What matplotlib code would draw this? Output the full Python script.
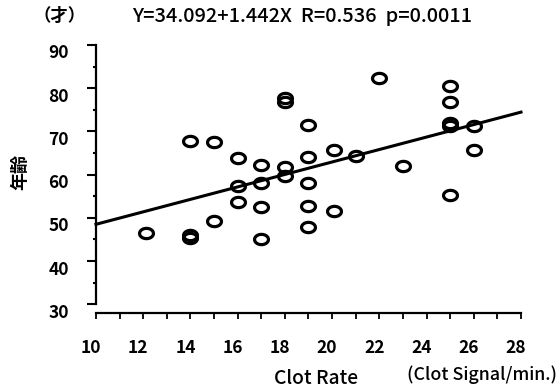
import matplotlib
matplotlib.use("Agg")
import matplotlib.pyplot as plt
import matplotlib.transforms as mtransforms
from matplotlib.path import Path
import numpy as np

plt.rcParams['font.family'] = ['Noto Sans CJK JP', 'DejaVu Sans']

# Data
clot_rate = [12.1, 14, 14, 14, 15, 15, 16, 16, 16, 17, 17, 17, 17,
             18, 18, 18, 18, 19, 19, 19, 19, 19, 20.1, 20.1, 21, 22, 23,
             25, 25, 25, 25, 25, 26, 26]
age = [46.5, 46.0, 45.3, 67.7, 67.5, 49.2, 63.8, 57.3, 53.7, 62.3, 58.1, 52.5, 45.2,
       77.7, 76.9, 61.8, 59.6, 71.5, 64.1, 58.1, 52.7, 47.8, 65.6, 51.7, 64.2, 82.3, 61.9,
       80.4, 76.8, 71.9, 71.2, 55.2, 71.3, 65.8]
intercept = 34.092
slope = 1.442
fit_x = [10, 28]
x_ticks = [10, 12, 14, 16, 18, 20, 22, 24, 26, 28]
y_ticks = [30, 40, 50, 60, 70, 80, 90]

W, H = 559, 390
fig = plt.figure(figsize=(W/100, H/100), dpi=100)
ax = fig.add_axes([96/W, 1 - 304.3/H, 425/W, (304.3 - 45)/H])

# elliptical open marker
t = np.linspace(0, 2*np.pi, 60)
ell = Path(np.column_stack([np.cos(t), 0.74*np.sin(t)]), closed=True)

ax.plot(clot_rate, age, linestyle='none', marker=ell, markersize=10,
        markerfacecolor='none', markeredgecolor='black', markeredgewidth=2.3,
        clip_on=False, zorder=3)

fx = np.array(fit_x, dtype=float)
ax.plot(fx, intercept + slope*fx, color='black', lw=2.2, clip_on=False, zorder=2)

ax.set_xlim(10, 28)
ax.set_ylim(30, 90)

for s in ['top', 'right']:
    ax.spines[s].set_visible(False)
ax.spines['left'].set_linewidth(1.6)
ax.spines['bottom'].set_linewidth(1.6)
ax.spines['bottom'].set_position(('outward', 6))

ax.set_xticks(x_ticks)
ax.set_xticks(np.arange(10, 29, 1), minor=True)
ax.set_yticks(y_ticks)
ax.set_yticks(np.arange(35, 90, 10), minor=True)

ax.tick_params(axis='y', which='major', direction='out', length=6.5, width=1.5, pad=13,
               labelsize=12.5)
ax.tick_params(axis='y', which='minor', direction='out', length=2.5, width=1.5)
ax.tick_params(axis='x', which='both', direction='out', length=4.5, width=1.3, pad=14.5,
               labelsize=12.5)

for lab in ax.get_yticklabels():
    lab.set_fontweight('bold')
    lab.set_transform(lab.get_transform() + mtransforms.ScaledTranslation(0, -6.5/100, fig.dpi_scale_trans))
for lab in ax.get_xticklabels():
    lab.set_fontweight('bold')
    lab.set_transform(lab.get_transform() + mtransforms.ScaledTranslation(-5/100, 0, fig.dpi_scale_trans))

title = fig.text(302/W, 1 - 16/H, 'Y=34.092+1.442X  R=0.536  p=0.0011', ha='center', va='center',
                 fontsize=14, fontweight='medium')
unit = fig.text(60/W, 1 - 16/H, '（才）', ha='center', va='center', fontsize=12.5, fontweight='bold')
ylab = fig.text(20/W, 1 - 172/H, '年齢', ha='center', va='center', rotation=90,
                fontsize=13, fontweight='bold')
xlab = fig.text(316/W, 1 - 378/H, 'Clot Rate', ha='center', va='center', fontsize=13.5,
                fontweight='medium')
xunit = fig.text(407/W, 1 - 375/H, '(Clot Signal/min.)', ha='left', va='center', fontsize=13.5,
                 fontweight='medium')

# fit text sizes to the widths measured on the reference
fig.canvas.draw()
r = fig.canvas.get_renderer()
for txt, target in [(title, 340), (xlab, 84), (xunit, 150)]:
    for _ in range(3):
        w = txt.get_window_extent(r).width
        txt.set_fontsize(txt.get_fontsize() * target / w)

fig.savefig('out.png', dpi=100)
